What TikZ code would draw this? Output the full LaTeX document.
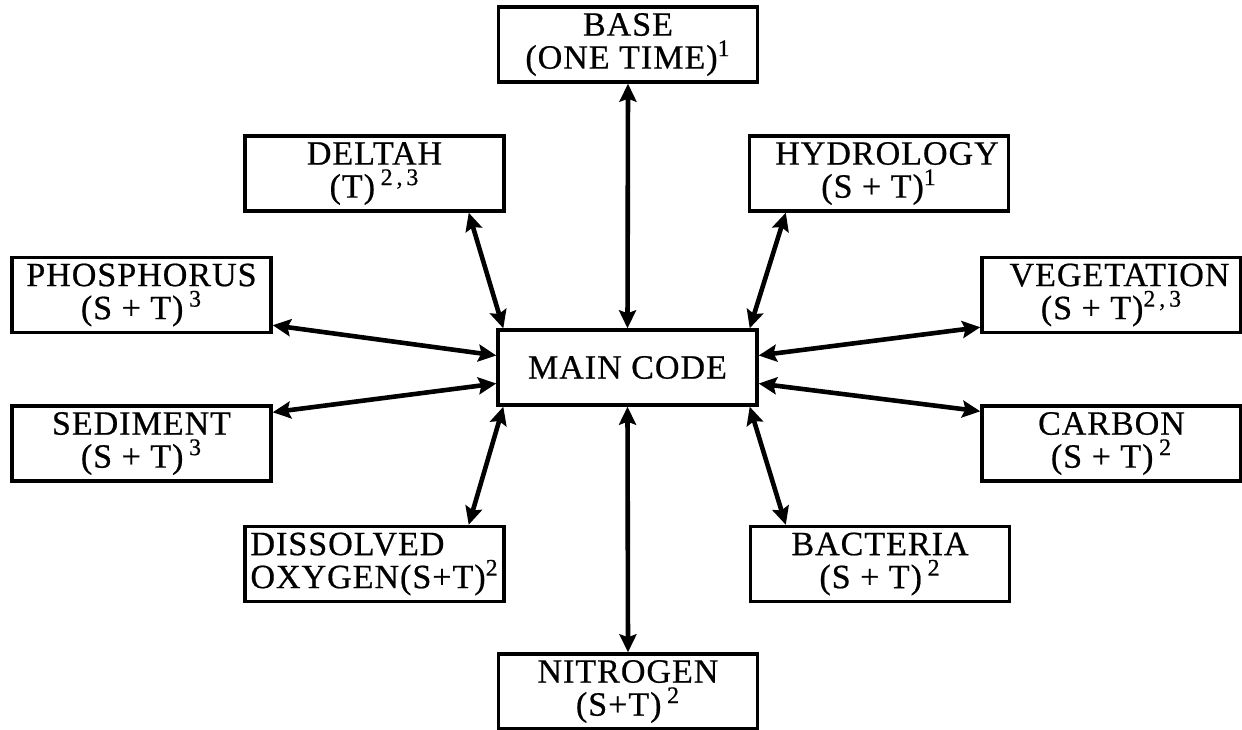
\documentclass[tikz,border=0pt]{standalone}
\usepackage{fontspec}
\setmainfont{Liberation Serif}[LetterSpace=3,FakeBold=0.6]
\usetikzlibrary{arrows.meta,calc}
\tikzset{
  box/.style={draw, line width=1.7pt, minimum width=129.5pt, minimum height=37.5pt,
    inner sep=0pt, align=center, font=\fontsize{17pt}{16.5pt}\selectfont},
  conn/.style={line width=2.3pt,
    {Stealth[length=9pt,width=8.5pt,inset=1.5pt]}-{Stealth[length=9pt,width=8.5pt,inset=1.5pt]}}
}
\begin{document}
\begin{tikzpicture}[x=0.5pt,y=-0.5pt]
\fill[white] (0,0) rectangle (1242,729);
\useasboundingbox (0,0) rectangle (1242,729);
\node[box] (base) at (628,44.5) {BASE\\(ONE TIME)\textsuperscript{1}};
\node[box] (deltah) at (374.5,173.5) {DELTAH\\(T)\,\textsuperscript{2\,,\,3}};
\node[box] (hydro) at (879,173.5) {\hspace*{8pt}HYDROLOGY\\(S + T)\textsuperscript{1}};
\node[box] (phos) at (141.5,295) {PHOSPHORUS\\(S + T)\,\textsuperscript{3}};
\node[box] (veg) at (1111.5,295) {\hspace*{8pt}VEGETATION\\(S + T)\textsuperscript{2\,,\,3}};
\node[box] (main) at (627.5,367.5) {MAIN CODE};
\node[box] (sed) at (141.5,443.5) {SEDIMENT\\(S + T)\,\textsuperscript{3}};
\node[box] (carbon) at (1111.5,443.5) {CARBON\\(S + T)\,\textsuperscript{2}};
\node[box, align=left, text width=124pt] (diss) at (374.5,564) {DISSOLVED\\OXYGEN(S+T)\textsuperscript{2}};
\node[box] (bact) at (880,564) {BACTERIA\\(S + T)\,\textsuperscript{2}};
\node[box] (nitro) at (628,691.5) {NITROGEN\\(S+T)\,\textsuperscript{2}};

\draw[conn] (base.south) -- (main.north);
\draw[conn] (main.south) -- (nitro.north);
\draw[conn] ($(deltah.south east)+(-37,0)$) -- ($(main.north west)+(7,0)$);
\draw[conn] ($(hydro.south west)+(38,0)$) -- ($(main.north east)+(-9,0)$);
\draw[conn] ($(phos.south east)+(0,-9)$) -- ($(main.west)+(0,-12)$);
\draw[conn] ($(veg.south west)+(0,-7)$) -- ($(main.east)+(0,-12)$);
\draw[conn] ($(sed.north east)+(0,8)$) -- ($(main.west)+(0,16)$);
\draw[conn] ($(carbon.north west)+(0,7)$) -- ($(main.east)+(0,16)$);
\draw[conn] ($(diss.north east)+(-37,0)$) -- ($(main.south west)+(7,0)$);
\draw[conn] ($(bact.north west)+(37,0)$) -- ($(main.south east)+(-9,0)$);
\end{tikzpicture}
\end{document}
